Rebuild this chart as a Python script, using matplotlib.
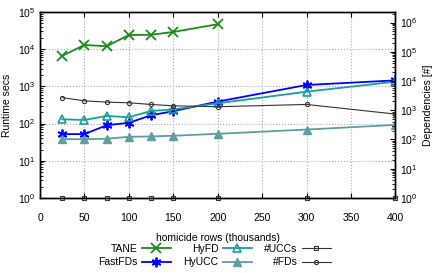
import matplotlib.pyplot as plt
import numpy as np

# rows (thousands)
rows = [25, 50, 75, 100, 125, 150, 200, 300, 400]

# runtimes in seconds (left axis)
tane = [6600, 13000, 12000, 24000, 24500, 29000, 47000]
fastfds = [52, 52, 90, 105, 167, 215, 390, 1090, 1450]
hyfd = [130, 125, 160, 148, 218, 240, 350, 720, 1340]
hyucc = [38, 38, 39, 44, 45, 47, 53, 69, 92]

# dependency counts (right axis)
n_uccs = [1, 1, 1, 1, 1, 1, 1, 1, 1]
n_fds = [2700, 2100, 1900, 1800, 1580, 1420, 1320, 1580, 740]

plt.rcParams['font.family'] = 'Liberation Sans'
plt.rcParams['font.size'] = 7.5

fig = plt.figure(figsize=(4.47, 2.73), dpi=100)
ax = fig.add_axes([0.0895, 0.275, 0.795, 0.681])
ax2 = ax.twinx()

h1, = ax.plot(rows[:len(tane)], tane, color='#1a8a1a', marker='x', ms=7, mew=1.3, lw=1.3, label='TANE')
h2, = ax.plot(rows, fastfds, color='#0000ff', marker=(6, 2, 0), ms=7, mew=1.3, lw=1.3, label='FastFDs')
h3, = ax.plot(rows, hyfd, color='#1a9e9e', marker='^', ms=6, mfc='none', mew=1.2, lw=1.3, label='HyFD')
h4, = ax.plot(rows, hyucc, color='#5f9ea0', marker='^', ms=6, lw=1.3, label='HyUCC')
h5, = ax2.plot(rows, n_uccs, color='#333333', marker='s', ms=3, mfc='none', mew=0.8, lw=0.8,
               label='#UCCs', clip_on=False)
h6, = ax2.plot(rows, n_fds, color='#333333', marker='o', ms=3, mfc='none', mew=0.8, lw=0.8, label='#FDs')

ax.set_yscale('log')
ax.set_ylim(1, 1e5)
ax.set_xlim(0, 400)
ax.set_xticks(np.arange(0, 401, 50))
ax2.set_yscale('log')
ax2.set_ylim(1, 2.3e6)

ax.grid(True, which='major', linestyle=':', color='#aaaaaa', lw=0.8)
ax.tick_params(which='both', direction='in', top=True)
ax.tick_params(axis='x', which='minor', top=False, bottom=False)
ax2.tick_params(which='both', direction='in')
ax.tick_params(axis='x', pad=11)
for a in (ax, ax2):
    for s in a.spines.values():
        s.set_linewidth(1.0)

ax.set_ylabel('Runtime secs')
ax2.set_ylabel('Dependencies [#]')
ax.set_xlabel('homicide rows (thousands)', labelpad=7)

fig.legend([h1, h2, h3, h4, h5, h6],
           ['TANE', 'FastFDs', 'HyFD', 'HyUCC', '#UCCs', '#FDs'],
           ncol=3, markerfirst=False, frameon=False, loc='upper center',
           bbox_to_anchor=(0.48, 0.125), handlelength=2.8, columnspacing=1.2,
           labelspacing=0.3, borderpad=0, handletextpad=0.4)

plt.savefig('out.png', dpi=100)
